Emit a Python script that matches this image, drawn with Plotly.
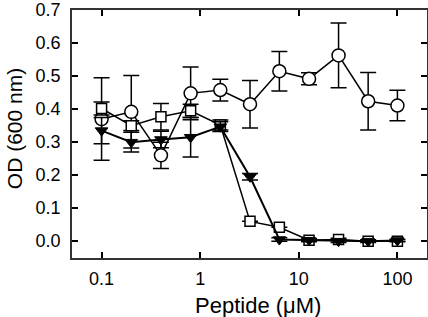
import plotly.graph_objects as go

conc = [0.1, 0.2, 0.4, 0.8, 1.6, 3.2, 6.35, 12.7, 25.3, 50.5, 100]

circ = [0.37, 0.392, 0.26, 0.448, 0.458, 0.415, 0.515, 0.492, 0.563, 0.424, 0.411]
circ_err = [0.125, 0.11, 0.04, 0.08, 0.033, 0.072, 0.06, 0.018, 0.098, 0.087, 0.046]

sq = [0.402, 0.35, 0.377, 0.395, 0.352, 0.06, 0.042, 0.003, 0.005, 0.0, 0.0]
sq_err = [0.02, 0.015, 0.04, 0.02, 0.015, 0.0, 0.0, 0.0, 0.004, 0.0, 0.0]

tri = [0.335, 0.30, 0.308, 0.315, 0.347, 0.195, 0.005, 0.003, 0.0, 0.0, 0.002]
tri_err = [0.04, 0.03, 0.025, 0.06, 0.015, 0.01, 0.005, 0.005, 0.004, 0.004, 0.004]

ytick_vals = [0.0, 0.1, 0.2, 0.3, 0.4, 0.5, 0.6, 0.7]
xtick_vals = [0.1, 1, 10, 100]
xtick_text = ["0.1", "1", "10", "100"]

x_title = "Peptide (μM)"
y_title = "OD (600 nm)"

FONT = "Liberation Sans, Arial, sans-serif"

fig = go.Figure()

def err(e):
    return dict(type="data", array=e, visible=True, color="black", thickness=1.5, width=8)

fig.add_trace(go.Scatter(
    x=conc, y=circ, mode="lines+markers", error_y=err(circ_err),
    line=dict(color="black", width=1.5),
    marker=dict(symbol="circle", size=13, color="white", line=dict(color="black", width=1.5)),
))
fig.add_trace(go.Scatter(
    x=conc, y=sq, mode="lines+markers", error_y=err(sq_err),
    line=dict(color="black", width=1.5),
    marker=dict(symbol="square", size=10, color="white", line=dict(color="black", width=1.5)),
))
fig.add_trace(go.Scatter(
    x=conc, y=tri, mode="lines+markers", error_y=err(tri_err),
    line=dict(color="black", width=2),
    marker=dict(symbol="triangle-down", size=11, color="black", line=dict(color="black", width=1)),
))

axis_common = dict(
    showgrid=False, zeroline=False, showline=True, linecolor="#333333", linewidth=1.5,
    mirror="ticks", ticks="inside", ticklen=6, tickwidth=1.5, tickcolor="black",
    tickfont=dict(family=FONT, size=18, color="black"),
    automargin=False, ticklabeloverflow="allow",
)

fig.update_layout(
    width=428, height=317,
    margin=dict(l=72, r=1, t=10, b=59),
    paper_bgcolor="white", plot_bgcolor="white",
    showlegend=False,
    xaxis=dict(
        type="log", range=[-1.3, 2.3], tickvals=xtick_vals, ticktext=xtick_text,
        ticklabelstandoff=4,
        **axis_common,
    ),
    yaxis=dict(
        range=[-0.051, 0.7005], tickvals=ytick_vals, tickformat=".1f",
        ticklabelstandoff=6,
        **axis_common,
    ),
    annotations=[
        dict(text=x_title, xref="paper", yref="paper", x=0.524, y=-0.19,
             xanchor="center", yanchor="middle", showarrow=False, borderpad=0,
             font=dict(family=FONT, size=22, color="black")),
        dict(text=y_title, xref="paper", yref="paper", x=-0.163, y=0.52,
             xanchor="center", yanchor="middle", showarrow=False, textangle=-90,
             borderpad=0, font=dict(family=FONT, size=21, color="black")),
    ],
)

fig.write_html("out.html", config={"displayModeBar": False},
               post_script="document.body.style.margin='0';document.body.style.padding='0';")
